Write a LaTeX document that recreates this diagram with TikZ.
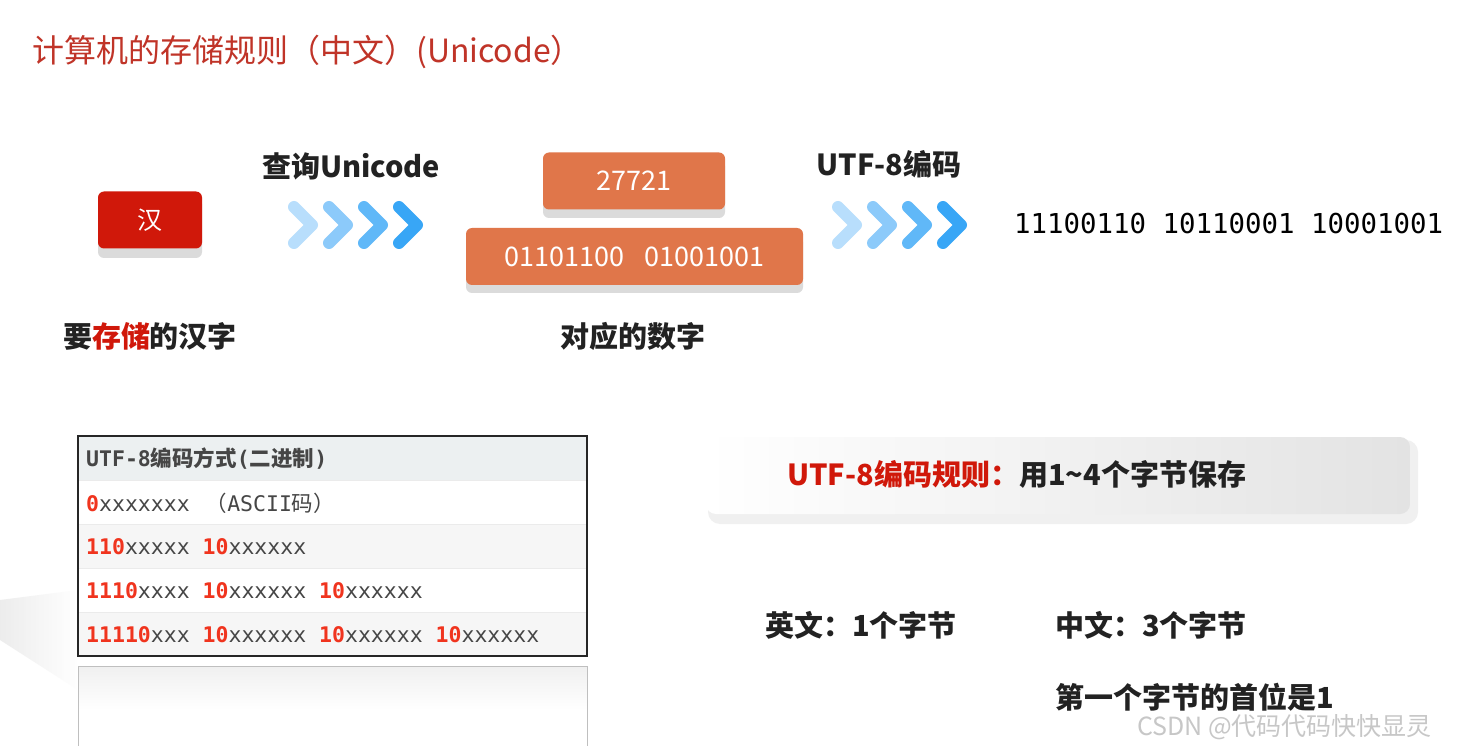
\documentclass[tikz,border=0pt]{standalone}
\usepackage{fontspec}
\setmainfont{Noto Sans CJK SC}
\newfontfamily\cjk{Noto Sans CJK SC}
\setmonofont{DejaVu Sans Mono}
\usetikzlibrary{calc}
\definecolor{titlered}{RGB}{192,52,40}
\definecolor{hanred}{RGB}{208,24,10}
\definecolor{boxorange}{RGB}{224,118,74}
\definecolor{darktext}{RGB}{34,34,34}
\definecolor{tblred}{RGB}{240,52,30}
\definecolor{tblgray}{RGB}{70,70,70}
\definecolor{hdrfill}{RGB}{236,240,241}
\definecolor{rowfill}{RGB}{246,246,246}
\definecolor{chev1}{RGB}{184,222,252}
\definecolor{chev2}{RGB}{140,202,250}
\definecolor{chev3}{RGB}{96,184,248}
\definecolor{chev4}{RGB}{56,166,246}
\tikzset{
  lbl/.style={font=\bfseries\fontsize{29}{31}\selectfont, text=darktext, inner sep=0pt},
  boxtext/.style={font=\fontsize{27}{29}\selectfont, text=white, inner sep=0pt},
  tbl/.style={font=\ttfamily\fontsize{21.5}{23}\selectfont, text=tblgray, inner sep=0pt, anchor=west},
  chevline/.style={line width=12pt, line cap=round, line join=round},
  shadowbox/.style={fill=black!14, rounded corners=6pt},
}
\newcommand{\rd}[1]{\textcolor{tblred}{\bfseries #1}}
\newcommand{\chevrons}[2]{%
  \foreach \i/\c in {0/chev1,1/chev2,2/chev3,3/chev4}{
    \draw[chevline, draw=\c] ($(#1)+(\i*35,-18)$) -- ($(#1)+(\i*35+18,0)$) -- ($(#1)+(\i*35,18)$);
  }}
\begin{document}
\begin{tikzpicture}[x=1pt,y=-1pt]
\useasboundingbox[fill=white] (0,0) rectangle (1476,746);
% left faint shadow
\shade[left color=black!12, right color=white, opacity=0.6] (0,600) -- (78,590) -- (78,690) -- (0,640) -- cycle;
% title
\node[anchor=west, inner sep=0pt, text=titlered, font=\fontsize{32}{34}\selectfont] (title) at (32,52) {计算机的存储规则（中文）(Unicode）};

% Han box
\fill[shadowbox] (98,198) rectangle (202,258);
\node[fill=hanred, rounded corners=6pt, minimum width=104pt, minimum height=57pt, inner sep=0pt, text=white, font=\fontsize{25}{27}\selectfont] (han) at (150,220) {汉};

% query unicode
\node[lbl] (q) at (351,166) {查询Unicode};
\coordinate (c1) at (294,225);
\chevrons{c1}{}

% boxes
\fill[shadowbox] (543,160) rectangle (725,218);
\node[fill=boxorange, rounded corners=6pt, minimum width=182pt, minimum height=57pt, inner sep=0pt] (dec) at (634,181) {};
\node[boxtext] at (dec) {27721};
\fill[shadowbox] (466,236) rectangle (803,293);
\node[fill=boxorange, rounded corners=6pt, minimum width=337pt, minimum height=57pt, inner sep=0pt] (bin) at (634.5,256.5) {};
\node[boxtext] at (bin) {01101100\hspace{20pt}01001001};

% utf8
\node[lbl] (u) at (889,164) {UTF-8编码};
\coordinate (c2) at (838,225);
\chevrons{c2}{}
\node[anchor=west, inner sep=0pt, font=\ttfamily\fontsize{27.4}{29}\selectfont, text=black] (res) at (1014,224) {11100110 10110001 10001001};

% captions
\node[lbl] (cap1) at (150,336) {要\textcolor{hanred}{存储}的汉字};
\node[lbl] (cap2) at (633,336) {对应的数字};

% table
\fill[hdrfill] (78,436) rectangle (587,480);
\fill[white] (78,480) rectangle (587,524);
\fill[rowfill] (78,524) rectangle (587,568);
\fill[white] (78,568) rectangle (587,612);
\fill[rowfill] (78,612) rectangle (587,656);
\foreach \yy in {480,524,568,612}{\draw[black!8, line width=1pt] (78,\yy) -- (587,\yy);}
\draw[black!85, line width=1.8pt] (78,436) rectangle (587,656);
\node[tbl, font=\bfseries\fontsize{21.5}{23}\selectfont] (h) at (86,459) {\ttfamily UTF-8\cjk 编码方式\ttfamily(\cjk 二进制\ttfamily)};
\node[tbl] (r1) at (86,503) {\rd{0}xxxxxxx\hspace{16pt}{\cjk （}ASCII{\cjk 码）}};
\node[tbl] (r2) at (86,547) {\rd{110}xxxxx \rd{10}xxxxxx};
\node[tbl] (r3) at (86,591) {\rd{1110}xxxx \rd{10}xxxxxx \rd{10}xxxxxx};
\node[tbl] (r4) at (86,635) {\rd{11110}xxx \rd{10}xxxxxx \rd{10}xxxxxx \rd{10}xxxxxx};
% reflection
\shade[top color=black!6, bottom color=white] (78,666) rectangle (587,710);
\draw[black!25, line width=1pt] (78,746) -- (78,666) -- (587,666) -- (587,746);

% rule box
\fill[black!10, rounded corners=12pt] (710,443) rectangle (1414,520);
\fill[black!6, rounded corners=12pt] (708,440) rectangle (1418,524);
\shade[left color=white, right color=black!11, rounded corners=10pt] (706,437) rectangle (1410,514);
\node[anchor=west, inner sep=0pt, font=\bfseries\fontsize{29}{31}\selectfont] (rule) at (787,474) {\textcolor{hanred}{UTF-8编码规则：}\textcolor{darktext}{用1\char`\~4个字节保存}};

% notes
\node[lbl, anchor=west] (en) at (765,625) {英文：1个字节};
\node[lbl, anchor=west] (zh) at (1055,625) {中文：3个字节};
\node[lbl, anchor=west] (first) at (1055,697) {第一个字节的首位是1};

% watermark
\node[anchor=west, inner sep=0pt, text=black!22, font=\fontsize{25}{27}\selectfont] (wm) at (1137,727) {CSDN @代码代码快快显灵};
\end{tikzpicture}
\end{document}
